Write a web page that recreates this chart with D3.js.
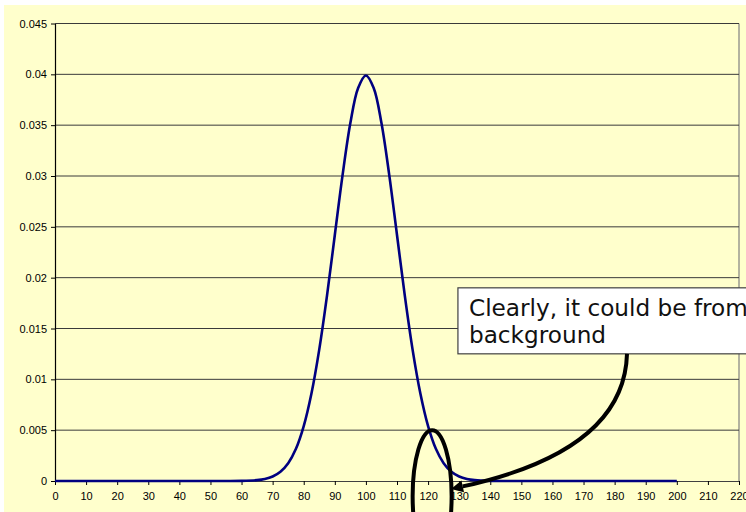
<!DOCTYPE html>
<html>
<head>
<meta charset="utf-8">
<script src="https://cdn.jsdelivr.net/npm/d3@7/dist/d3.min.js"></script>
<style>
	body { margin: 0; background: #fff; }
	svg { display: block; }
</style>
</head>
<body>
<svg></svg>
<script>
var WIDTH = 746;
var HEIGHT = 512;

// values
var xValues = [0, 50, 55, 60, 65, 67.5, 70, 72.5, 75, 77.5, 80, 82.5, 85, 87.5, 90, 92.5, 95, 97.5, 100,
	102.5, 105, 107.5, 110, 112.5, 115, 117.5, 120, 122.5, 125, 127.5, 130, 132.5, 135, 140, 145, 150, 200];
var densityValues = [0, 0, 0.000002, 0.000013, 0.000087, 0.0002, 0.00044, 0.00091, 0.00175, 0.00317, 0.0054,
	0.00863, 0.01295, 0.01826, 0.0242, 0.03011, 0.03521, 0.03866, 0.03989,
	0.03866, 0.03521, 0.03011, 0.0242, 0.01826, 0.01295, 0.00863, 0.0054, 0.00317, 0.00175, 0.00091, 0.00044,
	0.0002, 0.000087, 0.000013, 0.000002, 0, 0];

var xTicks = d3.range(0, 221, 10);
var yTicks = [0, 0.005, 0.01, 0.015, 0.02, 0.025, 0.03, 0.035, 0.04, 0.045];
var yTickLabels = ['0', '0.005', '0.01', '0.015', '0.02', '0.025', '0.03', '0.035', '0.04', '0.045'];

var noteLines = ['Clearly, it could be from', 'background'];

var svg = d3.select('svg')
	.attr('width', WIDTH)
	.attr('height', HEIGHT);

var x = d3.scaleLinear().domain([0, 220]).range([55, 739]);
var y = d3.scaleLinear().domain([0, 0.045]).range([481, 23.5]);

// chart area background
svg.append('rect')
	.attr('x', 4).attr('y', 5)
	.attr('width', WIDTH - 4).attr('height', HEIGHT - 5)
	.attr('fill', '#ffffcc');

// right border of plot area
svg.append('line')
	.attr('x1', x(220)).attr('x2', x(220))
	.attr('y1', y(0.045)).attr('y2', y(0))
	.attr('stroke', '#808080').attr('stroke-width', 1.2);

// gridlines
svg.append('g')
	.selectAll('line')
	.data(yTicks.slice(1))
	.enter()
	.append('line')
	.attr('x1', x(0)).attr('x2', x(220))
	.attr('y1', function(d){ return y(d); })
	.attr('y2', function(d){ return y(d); })
	.attr('stroke', '#3a3a3a').attr('stroke-width', 1);

var leftAxis = d3.axisLeft(y)
	.tickValues(yTicks)
	.tickFormat(function(d, i){ return yTickLabels[i]; })
	.tickSize(4).tickPadding(4).tickSizeOuter(0);
var bottomAxis = d3.axisBottom(x)
	.tickValues(xTicks)
	.tickFormat(d3.format('d'))
	.tickSize(4).tickPadding(7).tickSizeOuter(0);

var yAxisG = svg.append('g')
	.attr('transform', 'translate(' + x(0) + ',0)')
	.call(leftAxis);
var xAxisG = svg.append('g')
	.attr('transform', 'translate(0,' + y(0) + ')')
	.call(bottomAxis);

[yAxisG, xAxisG].forEach(function(g){
	g.selectAll('text')
		.attr('font-family', 'Liberation Sans, Arial, sans-serif')
		.attr('font-size', 11)
		.attr('fill', '#000');
	g.selectAll('line').attr('stroke', '#000');
});
yAxisG.select('.domain').attr('stroke', '#000').attr('stroke-width', 1.2);
xAxisG.select('.domain').attr('stroke', '#404040').attr('stroke-width', 1.2);

// density curve
var points = xValues.map(function(v, i){ return [v, densityValues[i]]; });
var line = d3.line()
	.x(function(d){ return x(d[0]); })
	.y(function(d){ return y(d[1]); })
	.curve(d3.curveCatmullRom.alpha(0.5));

svg.append('path')
	.datum(points)
	.attr('d', line)
	.attr('fill', 'none')
	.attr('stroke', '#000080')
	.attr('stroke-width', 2.6);

// annotation: ellipse round the tail
svg.append('ellipse')
	.attr('cx', x(121.3))
	.attr('cy', y(0.005) + 66)
	.attr('rx', 19.5)
	.attr('ry', 66)
	.attr('fill', 'none')
	.attr('stroke', '#000')
	.attr('stroke-width', 4);

// annotation: text box
var boxX = x(129.6), boxTop = y(0.019);
svg.append('rect')
	.attr('x', boxX).attr('y', boxTop)
	.attr('width', 320).attr('height', 66)
	.attr('fill', '#fff')
	.attr('stroke', '#404040').attr('stroke-width', 1.2);

svg.append('g')
	.selectAll('text')
	.data(noteLines)
	.enter()
	.append('text')
	.attr('x', boxX + 11)
	.attr('y', function(d, i){ return boxTop + 28.5 + i * 27; })
	.attr('font-family', 'DejaVu Sans, Verdana, sans-serif')
	.attr('font-size', 23.2)
	.attr('fill', '#111')
	.text(function(d){ return d; });

// annotation: curved arrow from box to the tail
var p0 = [627, boxTop + 66], p1 = [625, 425], p2 = [560, 465], tip = [451, 489];
var dx = tip[0] - p2[0], dy = tip[1] - p2[1], len = Math.sqrt(dx * dx + dy * dy);
var ux = dx / len, uy = dy / len;
var base = [tip[0] - 12 * ux, tip[1] - 12 * uy];
svg.append('path')
	.attr('d', 'M' + p0 + ' C' + p1 + ' ' + p2 + ' ' + base)
	.attr('fill', 'none')
	.attr('stroke', '#000')
	.attr('stroke-width', 4);

svg.append('path')
	.attr('d', 'M' + tip + ' L' + [base[0] - 6 * uy, base[1] + 6 * ux] + ' L' + [base[0] + 6 * uy, base[1] - 6 * ux] + ' Z')
	.attr('fill', '#000');
</script>
</body>
</html>
